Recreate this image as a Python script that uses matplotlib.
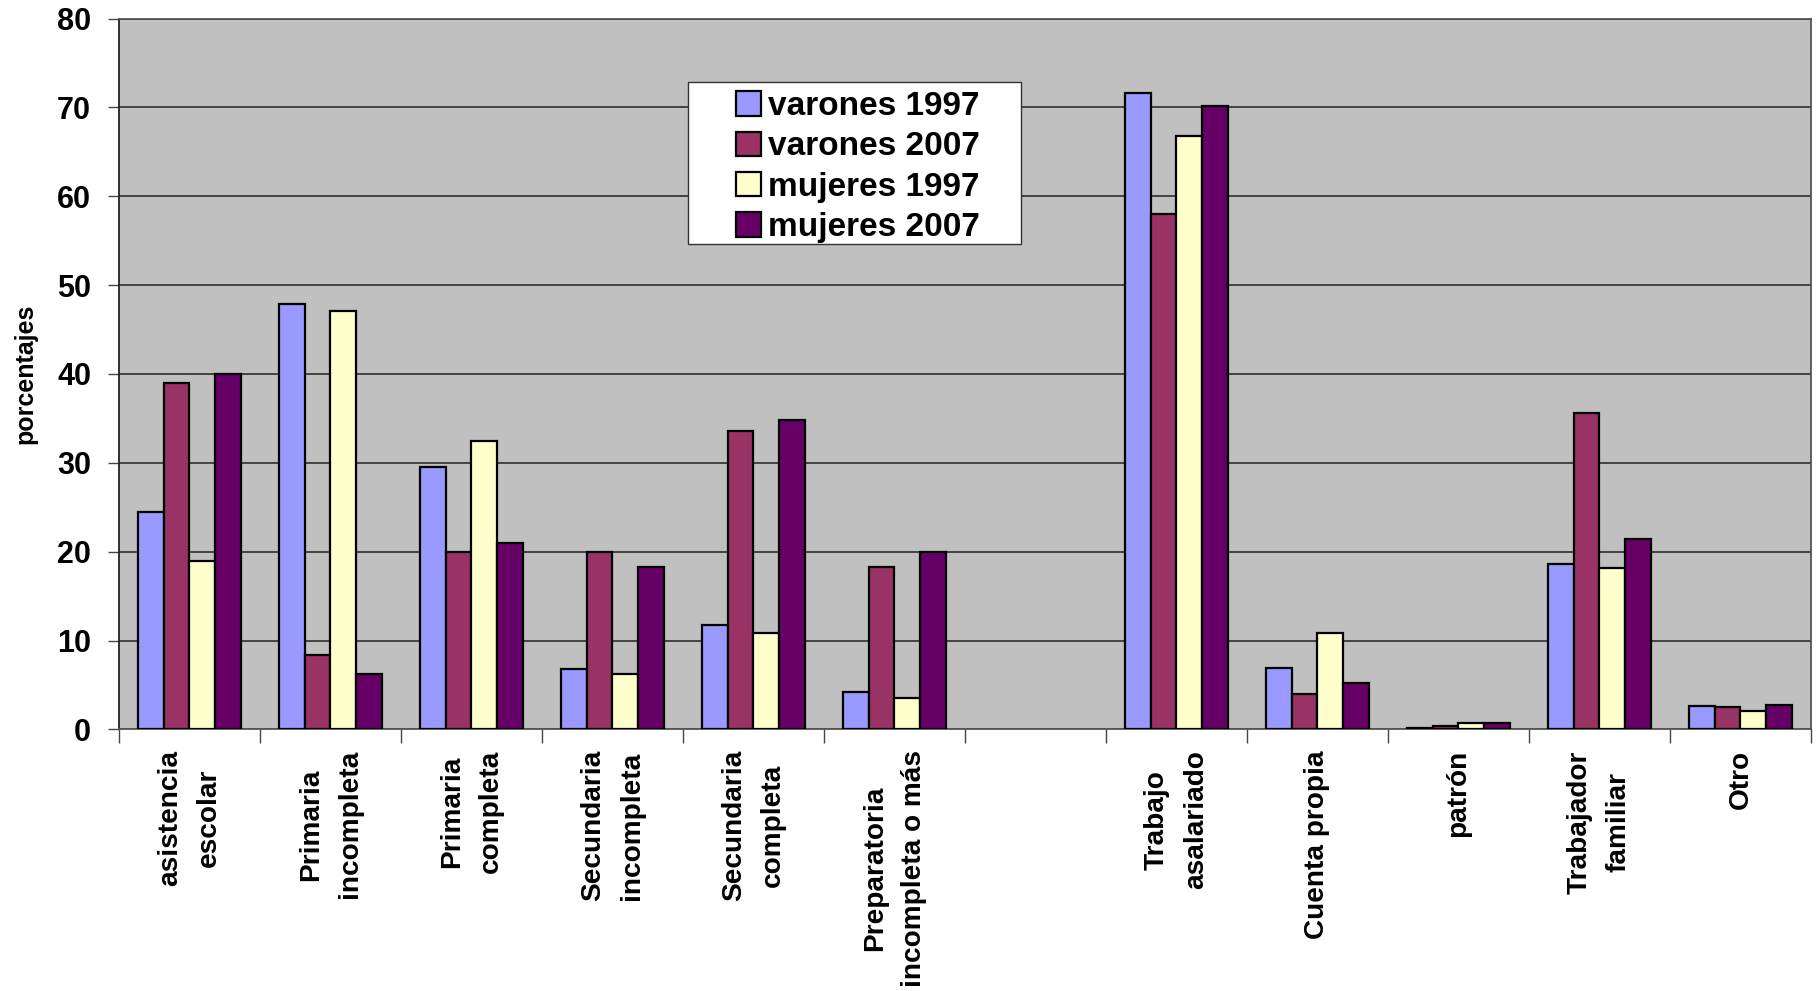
import numpy as np
import matplotlib.pyplot as plt
from matplotlib.patches import Rectangle

plt.rcParams['font.family'] = ['Liberation Sans', 'DejaVu Sans']
plt.rcParams['font.weight'] = 'bold'

# categorias (la vacia separa escolaridad de tipo de trabajo)
categorias = ["asistencia\nescolar", "Primaria\nincompleta", "Primaria\ncompleta",
              "Secundaria\nincompleta", "Secundaria\ncompleta",
              "Preparatoria\nincompleta o más", "",
              "Trabajo\nasalariado", "Cuenta propia", "patrón",
              "Trabajador\nfamiliar", "Otro"]

varones_1997 = [24.5, 47.9, 29.5, 6.8, 11.8, 4.2, 0, 71.6, 6.9, 0.2, 18.6, 2.6]
varones_2007 = [39.0, 8.4, 20.0, 20.0, 33.6, 18.3, 0, 58.0, 4.0, 0.35, 35.6, 2.5]
mujeres_1997 = [19.0, 47.1, 32.5, 6.2, 10.9, 3.5, 0, 66.8, 10.9, 0.7, 18.2, 2.1]
mujeres_2007 = [40.0, 6.2, 21.0, 18.3, 34.8, 20.0, 0, 70.2, 5.2, 0.7, 21.4, 2.7]

series = [("varones 1997", varones_1997, "#9999FF"),
          ("varones 2007", varones_2007, "#993366"),
          ("mujeres 1997", mujeres_1997, "#FFFFCC"),
          ("mujeres 2007", mujeres_2007, "#660066")]

fig = plt.figure(figsize=(18.16, 9.91), dpi=100)
ax = fig.add_axes([0.0655, 0.264, 0.9317, 0.7173])
ax.set_facecolor("#C0C0C0")

x = np.arange(len(categorias))
ancho = 0.183
for i, (nombre, valores, color) in enumerate(series):
    v = np.array(valores)
    mask = v > 0
    ax.bar(x[mask] + (i - 1.5) * ancho, v[mask], width=ancho, color=color,
           edgecolor="black", linewidth=1.6, label=nombre, zorder=3)

ax.set_xlim(-0.5, len(categorias) - 0.5)
ax.set_ylim(0, 80)
ax.set_yticks(range(0, 81, 10))
ax.yaxis.grid(True, color="#222222", linewidth=1.1, zorder=1)
ax.tick_params(axis="y", labelsize=22, length=8, width=1, color="#444444", pad=12)

# marcas en los limites de cada categoria, etiquetas al centro
ax.set_xticks(np.arange(-0.5, len(categorias)), minor=False)
ax.set_xticklabels([])
ax.set_xticks(x, minor=True)
ax.set_xticklabels(categorias, minor=True, rotation=90, fontsize=20.2,
                   ha="center", va="top", multialignment="center", linespacing=1.65)
ax.tick_params(axis="x", which="major", length=10, width=1, color="#444444")
ax.tick_params(axis="x", which="minor", length=0, pad=15)

for lado in ["left", "bottom", "right", "top"]:
    ax.spines[lado].set_color("#555555")
    ax.spines[lado].set_linewidth(1.3)
ax.spines["left"].set_color("#222222")

ax.set_ylabel("porcentajes", fontsize=18, fontweight="bold")
ax.yaxis.set_label_coords(-0.0485, 0.5)

# recuadro blanco de la leyenda, mas ancho que su contenido
ax.add_patch(Rectangle((0.3363, 0.6829), 0.1968, 0.2279, transform=ax.transAxes,
                       facecolor="white", edgecolor="#333333", linewidth=1, zorder=4))
leg = ax.legend(loc="center left", bbox_to_anchor=(0.3645, 0.791), fontsize=24,
                frameon=False, handlelength=0.75, handleheight=0.75, handletextpad=0.22,
                labelspacing=0.28, borderpad=0, borderaxespad=0)
leg.set_zorder(5)

fig.savefig("out.png", dpi=100)
